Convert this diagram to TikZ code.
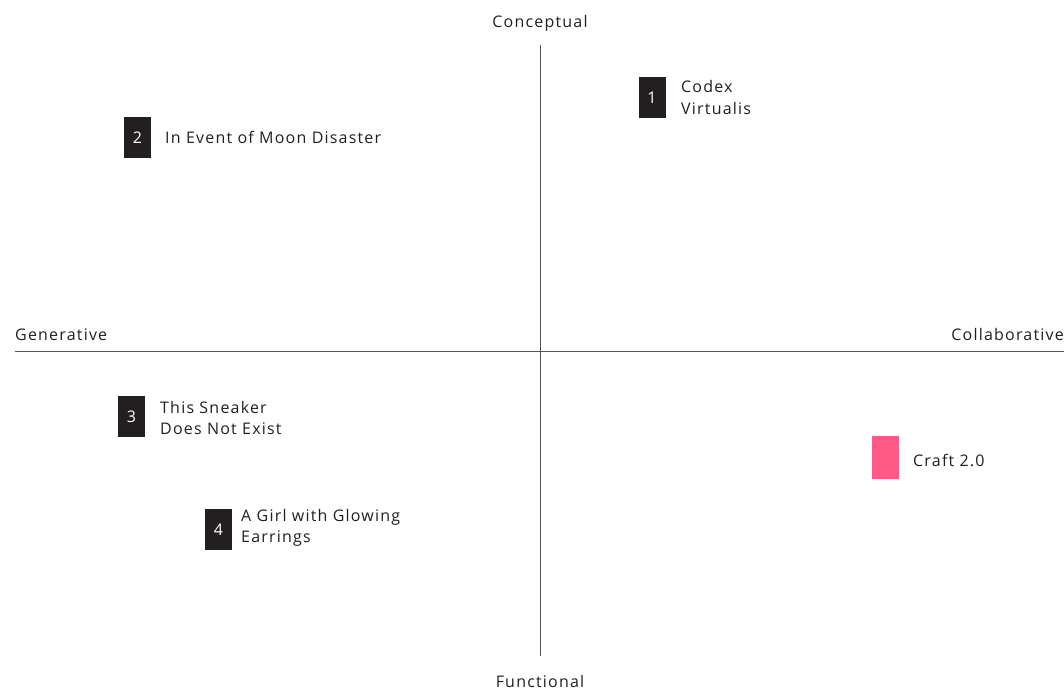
\documentclass[tikz,border=0pt]{standalone}
\usepackage{fontspec}
\setmainfont[LetterSpace=7.5]{Open Sans}
\definecolor{ink}{HTML}{231F20}
\definecolor{pinkbox}{HTML}{FF5A87}
\definecolor{axisgray}{HTML}{555555}
\begin{document}
\begin{tikzpicture}[x=1pt,y=-1pt,
  lbl/.style={font=\fontsize{16}{21.5}\selectfont, text=ink, inner sep=0pt},
  numbox/.style={fill=ink, text=white, minimum width=27pt, minimum height=41pt, inner sep=0pt, font=\fontsize{16}{18}\selectfont},
  axisline/.style={draw=axisgray, line width=1pt}]
\useasboundingbox (0,0) rectangle (1064,689);
\coordinate (L) at (15,351);
\coordinate (R) at (1064,351);
\coordinate (T) at (540,45);
\coordinate (B) at (540,656);
\draw[axisline] (L) -- (R);
\draw[axisline] (T) -- (B);
\node[lbl, anchor=base] (conc) at (540,27) {Conceptual};
\node[lbl, anchor=base] (func) at (540,687) {Functional};
\node[lbl, anchor=base west] (gen) at (15,340) {Generative};
\node[lbl, anchor=base east] (coll) at (1064,340) {Collaborative};

\node[numbox] (b1) at (652,97.5) {\raisebox{-4pt}{1}};
\node[lbl, anchor=west, align=left] (t1) at (681,97.5) {Codex\\Virtualis};
\node[numbox] (b2) at (137.5,137.5) {2};
\node[lbl, anchor=west] (t2) at (165,137.5) {In Event of Moon Disaster};
\node[numbox] (b3) at (131.5,416.5) {3};
\node[lbl, anchor=west, align=left] (t3) at (160,418) {This Sneaker\\Does Not Exist};
\node[numbox] (b4) at (218.5,529.5) {\raisebox{-1.5pt}{4}};
\node[lbl, anchor=west, align=left] (t4) at (241,528) {A Girl with Glowing\\Earrings};
\node[fill=pinkbox, minimum width=27pt, minimum height=43pt, inner sep=0pt] (b5) at (885.5,457.5) {};
\node[lbl, anchor=west] (t5) at (913,460) {Craft 2.0};
\end{tikzpicture}
\end{document}
